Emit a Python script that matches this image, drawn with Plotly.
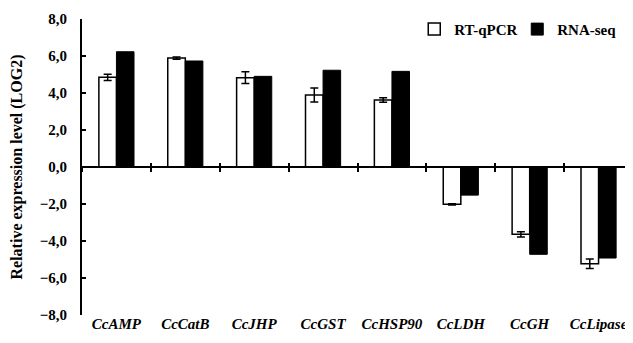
import plotly.graph_objects as go

genes = ["CcAMP", "CcCatB", "CcJHP", "CcGST", "CcHSP90", "CcLDH", "CcGH", "CcLipase"]
rt_qpcr = [4.85, 5.89, 4.83, 3.89, 3.62, -2.02, -3.64, -5.23]
rt_qpcr_err = [0.17, 0.06, 0.32, 0.38, 0.12, 0.04, 0.14, 0.26]
rna_seq = [6.23, 5.73, 4.90, 5.23, 5.17, -1.52, -4.72, -4.92]
y_ticks = [-8, -6, -4, -2, 0, 2, 4, 6, 8]

FONT = "Liberation Serif"

fig = go.Figure()
fig.add_trace(go.Bar(
    x=genes, y=rt_qpcr, name="RT-qPCR",
    marker=dict(color="white", line=dict(color="black", width=1.5)),
    error_y=dict(type="data", array=rt_qpcr_err, color="black", thickness=1.5, width=4),
))
fig.add_trace(go.Bar(
    x=genes, y=rna_seq, name="RNA-seq",
    marker=dict(color="black", line=dict(color="black", width=1)),
))
# invisible helpers to draw the zero-line axis with boundary ticks
for ax in ["x2", "x3"]:
    fig.add_trace(go.Scatter(x=genes, y=[0] * len(genes), xaxis=ax, mode="markers",
                             marker=dict(opacity=0), showlegend=False, hoverinfo="skip"))

fig.update_layout(
    width=625, height=335,
    margin=dict(l=74, r=0, t=11, b=28, autoexpand=False),
    plot_bgcolor="white", paper_bgcolor="white",
    separators=",.",
    barmode="group", bargap=0.49, bargroupgap=0,
    font=dict(family=FONT, color="black", size=12),
    legend=dict(orientation="h", x=0.603, y=0.965, xanchor="left", yanchor="middle",
                font=dict(family=FONT, size=15, weight="bold"),
                bgcolor="rgba(0,0,0,0)", itemwidth=30, traceorder="normal",
                tracegroupgap=0, entrywidth=58, entrywidthmode="pixels"),
    xaxis=dict(showline=False, ticks="", showgrid=False, zeroline=False,
               tickfont=dict(family=FONT, size=15, weight="bold", style="italic"),
               ticklabelstandoff=-2),
    xaxis2=dict(overlaying="x", matches="x", anchor="free", position=0.5,
                showline=True, linecolor="black", linewidth=1.8,
                ticks="outside", ticklen=4, tickwidth=2, tickcolor="black",
                tickson="boundaries", showticklabels=False, showgrid=False),
    xaxis3=dict(overlaying="x", matches="x", anchor="free", position=0.5,
                showline=False,
                ticks="inside", ticklen=4, tickwidth=2, tickcolor="black",
                tickson="boundaries", showticklabels=False, showgrid=False),
    yaxis=dict(range=[-8, 8], tickvals=y_ticks, tickformat=".1f",
               showline=True, linecolor="black", linewidth=2,
               ticks="inside", ticklen=4, tickwidth=2, tickcolor="black",
               showgrid=False, zeroline=False,
               tickfont=dict(family=FONT, size=15, weight="bold"),
               ticklabelstandoff=10,
               title=dict(text="Relative expression level (LOG2)",
                          font=dict(family=FONT, size=16, weight="bold"), standoff=14)),
)

fig.write_html("out.html")
